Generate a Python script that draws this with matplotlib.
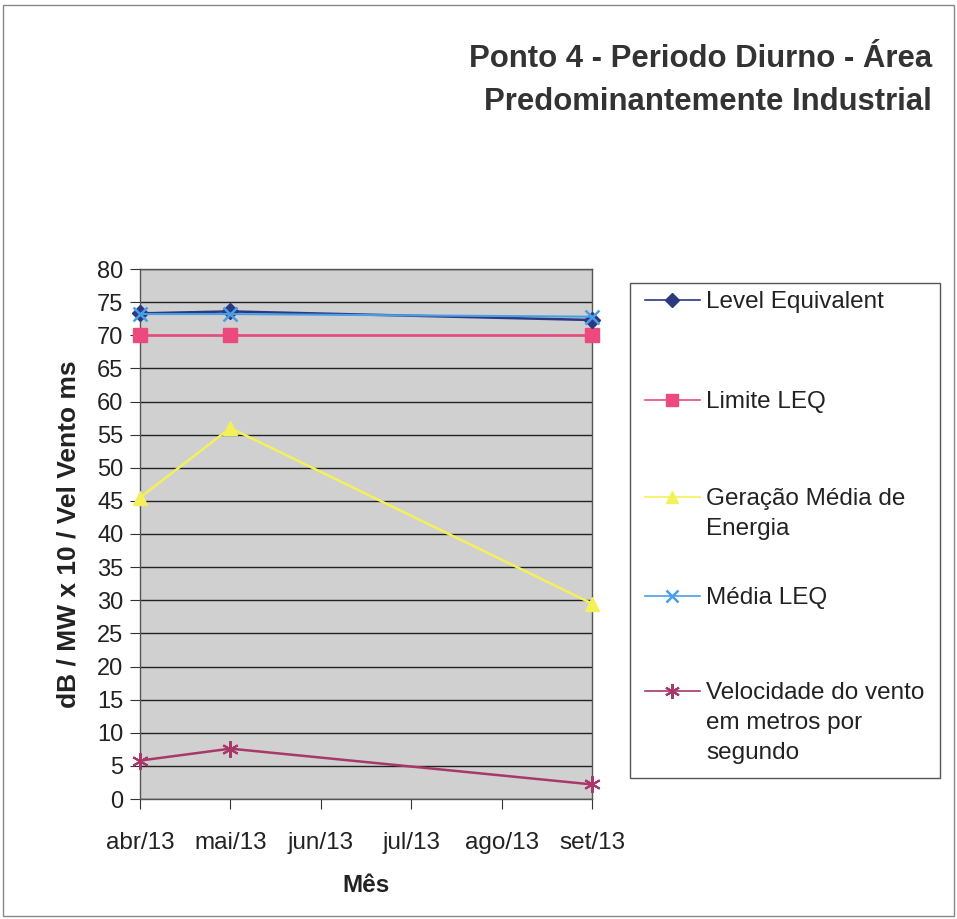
import matplotlib
matplotlib.use("Agg")
import matplotlib.pyplot as plt
from matplotlib.patches import Rectangle
from matplotlib.lines import Line2D

plt.rcParams['font.family'] = ['Liberation Sans', 'DejaVu Sans']

months = ["abr/13", "mai/13", "jun/13", "jul/13", "ago/13", "set/13"]
data_idx = [0, 1, 5]
level_eq = [73.3, 73.6, 72.3]
limite_leq = [70, 70, 70]
geracao = [45.5, 56.0, 29.5]
media_leq = [73.2, 73.2, 72.8]
vento = [5.8, 7.6, 2.2]
labels = ['Level Equivalent', 'Limite LEQ', 'Geração Média de\nEnergia', 'Média LEQ',
          'Velocidade do vento\nem metros por\nsegundo']

fig = plt.figure(figsize=(9.57, 9.19), dpi=100)
ax = fig.add_axes([140/957, 1-799/919, 452/957, 530/919])
ax.set_facecolor('#d0d0d0')

styles = [
    dict(color='#2b3a80', marker='D', markersize=8, lw=1.8, zorder=5),
    dict(color='#ec4a7e', marker='s', markersize=10, lw=1.8, zorder=4),
    dict(color='#f4f05a', marker='^', markersize=10, lw=1.8, zorder=4),
    dict(color='#4a9ee6', marker='x', markersize=10, mew=1.8, lw=1.5, zorder=6),
    dict(color='#a8386a', marker=(6, 2, 0), markersize=12, mew=1.5, lw=1.8, zorder=4),
]
series = [level_eq, limite_leq, geracao, media_leq, vento]
for vals, st, lab in zip(series, styles, labels):
    ax.plot(data_idx, vals, label=lab, clip_on=False, **st)

ax.set_xlim(0, 5)
ax.set_ylim(0, 80)
ax.set_yticks(range(0, 81, 5))
ax.set_xticks(range(len(months)))
ax.set_xticklabels(months)
ax.tick_params(axis='both', direction='out', length=7, color='#333333', labelcolor='#222222')
ax.tick_params(axis='y', labelsize=17, pad=5)
ax.tick_params(axis='x', labelsize=17.5, pad=17)
ax.yaxis.grid(True, color='#222222', lw=1.0)
ax.set_axisbelow(True)
for s in ax.spines.values():
    s.set_color('#555555')
    s.set_linewidth(1.0)

ax.set_ylabel('dB / MW x 10 / Vel Vento ms', fontsize=19, fontweight='bold', color='#222222', labelpad=12)
ax.set_xlabel('Mês', fontsize=17.5, fontweight='bold', color='#222222', labelpad=14)

fig.text(932/957, 1-67/919, 'Ponto 4 - Periodo Diurno - Área', ha='right', va='baseline',
         fontsize=22.4, fontweight='bold', color='#333333')
fig.text(932/957, 1-110/919, 'Predominantemente Industrial', ha='right', va='baseline',
         fontsize=22.4, fontweight='bold', color='#333333')

# legend drawn manually (Excel style: handle aligned with first text line)
W, H = 957, 919
fig.patches.append(Rectangle((630/W, 1-778/H), 310/W, 495/H, transform=fig.transFigure,
                             fill=True, facecolor='white', edgecolor='#555555', lw=1.0))
entry_y = [300, 400, 497, 596, 691]
line_pitch = 30
for y, st, lab in zip(entry_y, styles, labels):
    ms = st['markersize'] * 0.9
    fig.add_artist(Line2D([645/W, 700/W], [1-y/H, 1-y/H], transform=fig.transFigure,
                          color=st['color'], lw=1.2))
    fig.add_artist(Line2D([672/W], [1-y/H], transform=fig.transFigure, linestyle='none',
                          marker=st['marker'], markersize=ms, color=st['color'],
                          mew=st.get('mew', 1.0)))
    for i, line in enumerate(lab.split('\n')):
        fig.text(706/W, 1-(y + 8 + i*line_pitch)/H, line, ha='left', va='baseline',
                 fontsize=17.5, color='#222222')

fig.patches.append(Rectangle((0.003, 0.003), 0.994, 0.992, transform=fig.transFigure,
                             fill=False, edgecolor='#888888', lw=1.0))

fig.savefig('out.png', dpi=100)
